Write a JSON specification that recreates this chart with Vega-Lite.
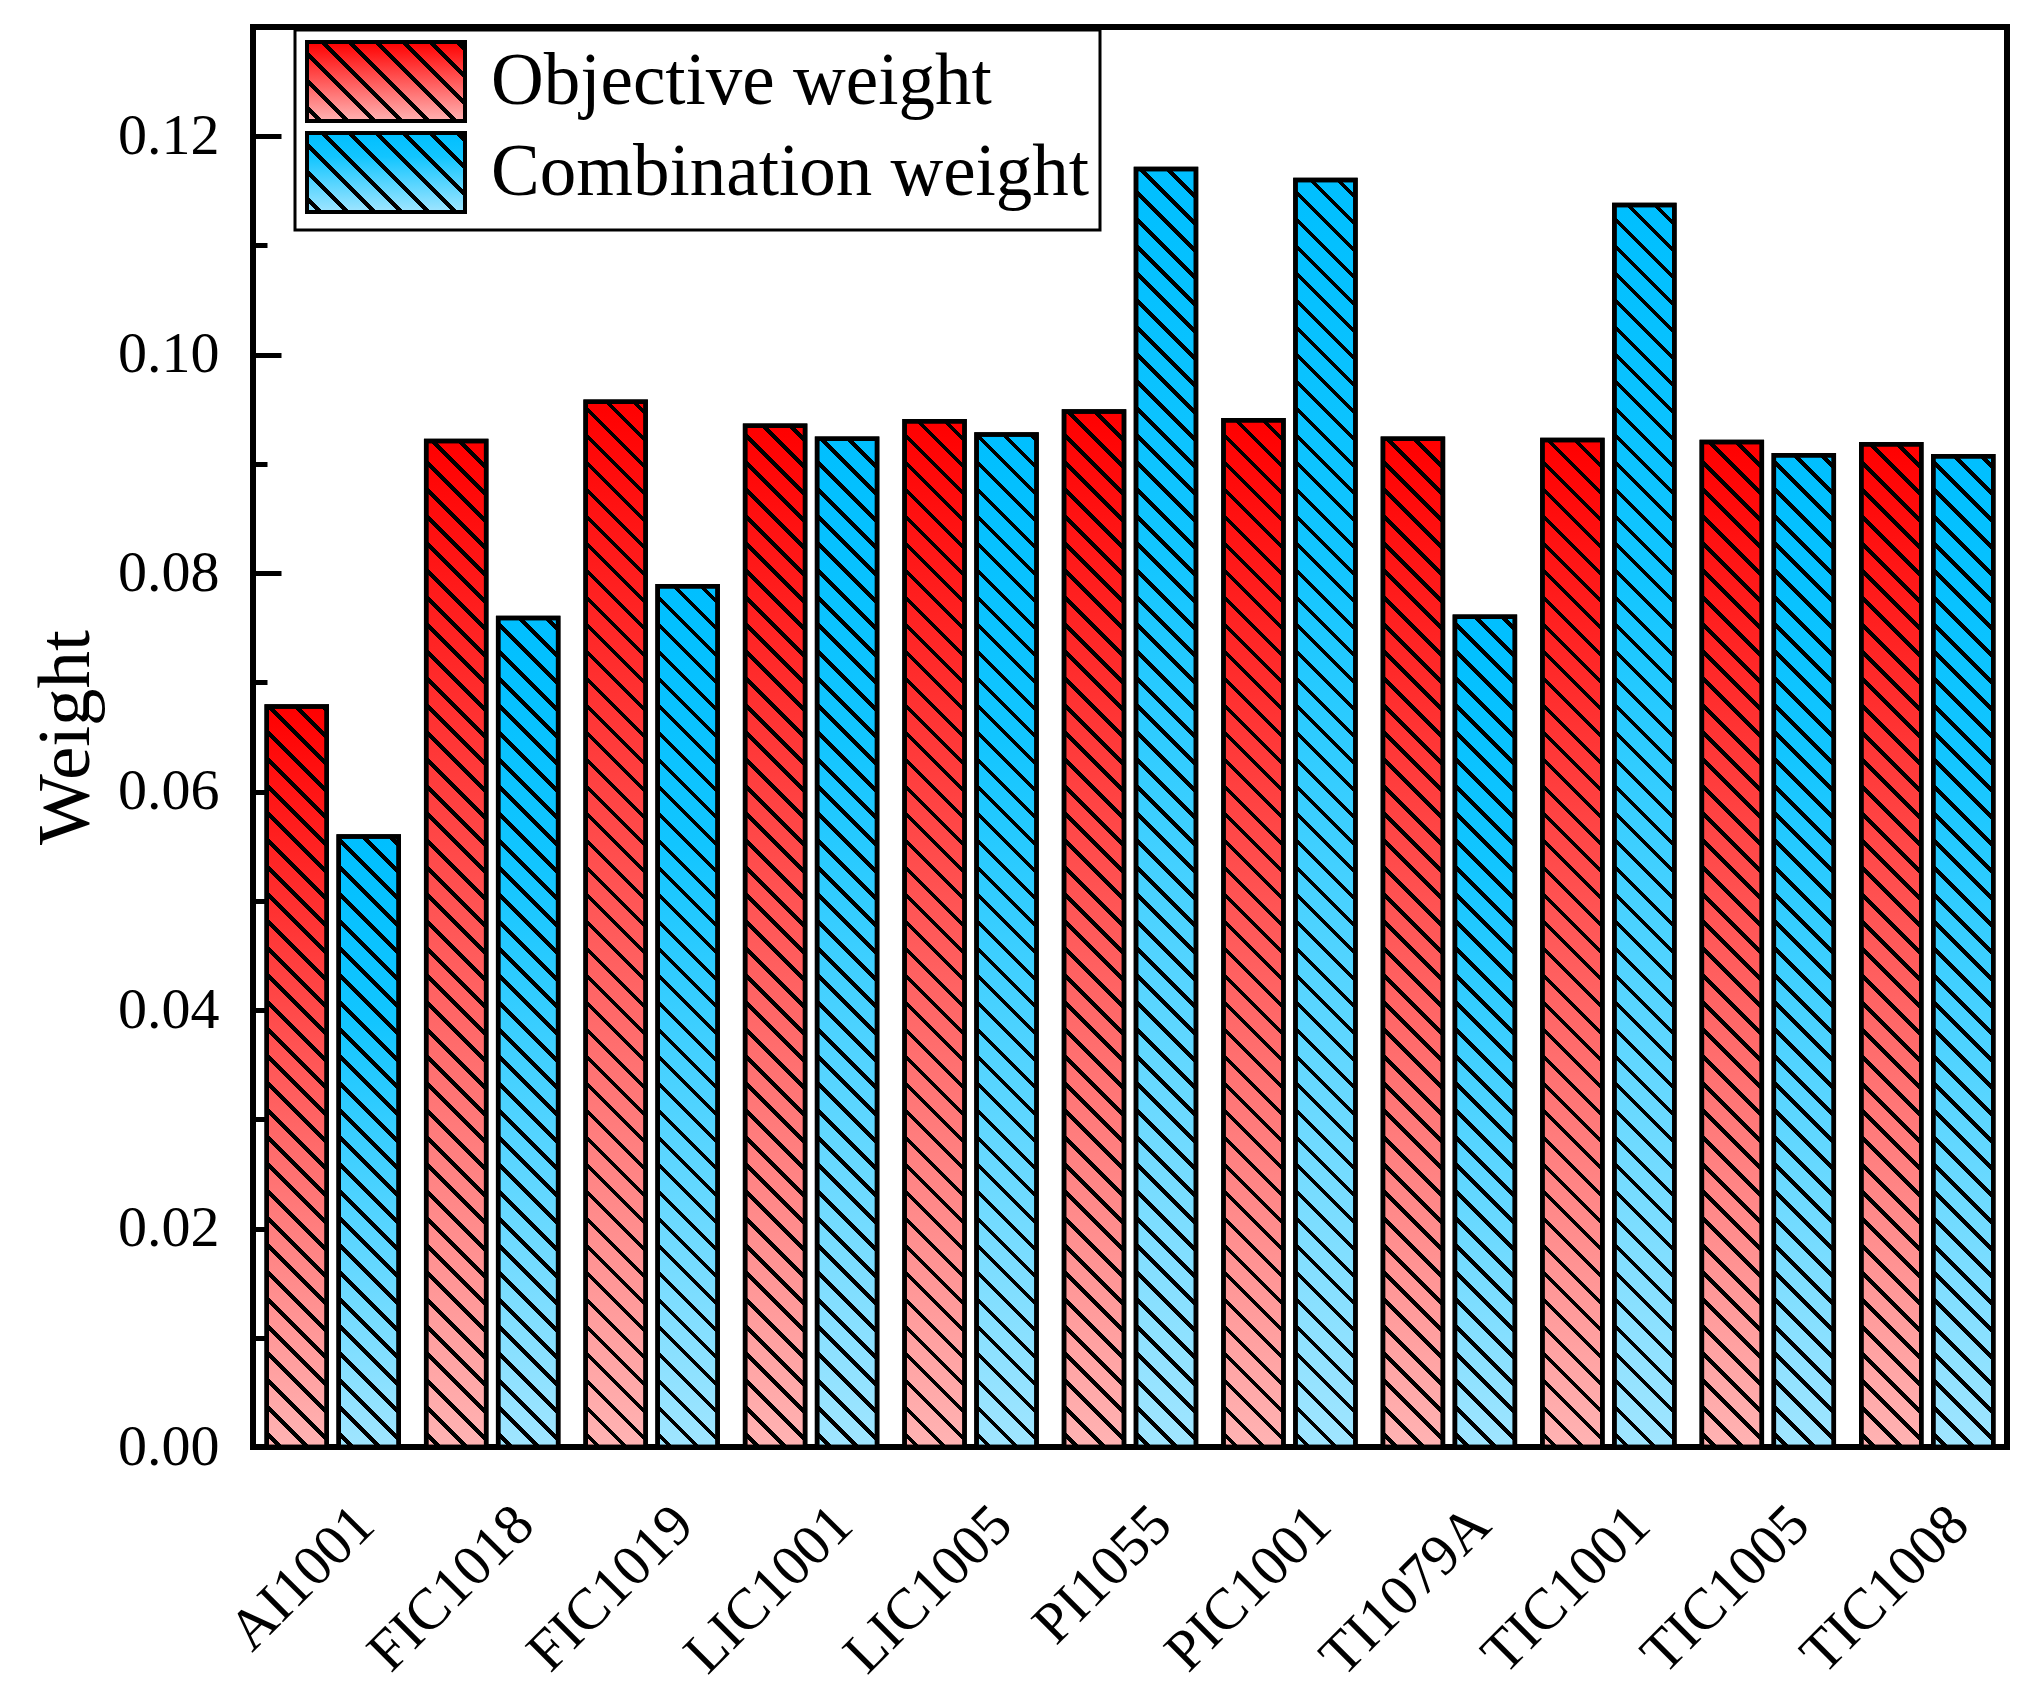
{
  "$schema": "https://vega.github.io/schema/vega-lite/v6.json",
  "autosize": {"type": "none"},
  "width": 1754,
  "height": 1420,
  "padding": {"left": 253, "top": 27, "right": 18, "bottom": 260},
  "background": "white",
  "config": {
    "view": {"stroke": "black", "strokeWidth": 6},
    "font": "Liberation Serif",
    "legend": {"strokeWidth": 3}
  },
  "data": {
    "values": [
      {"tag": "AI1001", "series": "Objective weight", "value": 0.0678},
      {"tag": "AI1001", "series": "Combination weight", "value": 0.0559},
      {"tag": "FIC1018", "series": "Objective weight", "value": 0.0921},
      {"tag": "FIC1018", "series": "Combination weight", "value": 0.0759},
      {"tag": "FIC1019", "series": "Objective weight", "value": 0.0957},
      {"tag": "FIC1019", "series": "Combination weight", "value": 0.0788},
      {"tag": "LIC1001", "series": "Objective weight", "value": 0.0935},
      {"tag": "LIC1001", "series": "Combination weight", "value": 0.0923},
      {"tag": "LIC1005", "series": "Objective weight", "value": 0.0939},
      {"tag": "LIC1005", "series": "Combination weight", "value": 0.0927},
      {"tag": "PI1055", "series": "Objective weight", "value": 0.0948},
      {"tag": "PI1055", "series": "Combination weight", "value": 0.1170},
      {"tag": "PIC1001", "series": "Objective weight", "value": 0.0940},
      {"tag": "PIC1001", "series": "Combination weight", "value": 0.1160},
      {"tag": "TI1079A", "series": "Objective weight", "value": 0.0923},
      {"tag": "TI1079A", "series": "Combination weight", "value": 0.0760},
      {"tag": "TIC1001", "series": "Objective weight", "value": 0.0922},
      {"tag": "TIC1001", "series": "Combination weight", "value": 0.1137},
      {"tag": "TIC1005", "series": "Objective weight", "value": 0.0920},
      {"tag": "TIC1005", "series": "Combination weight", "value": 0.0908},
      {"tag": "TIC1008", "series": "Objective weight", "value": 0.0918},
      {"tag": "TIC1008", "series": "Combination weight", "value": 0.0907}
    ]
  },
  "encoding": {
    "x": {
      "field": "tag",
      "type": "nominal",
      "sort": null,
      "scale": {"paddingInner": 0, "paddingOuter": 0},
      "axis": {
        "title": null,
        "domain": false,
        "ticks": false,
        "labelAngle": -45,
        "labelAlign": "right",
        "labelBaseline": "top",
        "labelFont": "Liberation Serif",
        "labelFontSize": 58,
        "labelColor": "black",
        "labelPadding": 48,
        "labelOffset": 12,
        "labelLimit": 0
      }
    },
    "xOffset": {
      "field": "series",
      "type": "nominal",
      "sort": ["Objective weight", "Combination weight"],
      "scale": {"domain": ["Objective weight", "Combination weight"], "paddingInner": 0.1667, "paddingOuter": 0.191}
    },
    "y": {
      "field": "value",
      "type": "quantitative",
      "scale": {"domain": [0, 0.13], "nice": false, "zero": true},
      "axis": {
        "title": "Weight",
        "titleFont": "Liberation Serif",
        "titleFontSize": 75,
        "titleFontWeight": "normal",
        "titleColor": "black",
        "titleAngle": 270,
        "titleAlign": "center",
        "titleBaseline": "alphabetic",
        "titleX": -165,
        "titleY": 710,
        "domain": false,
        "grid": false,
        "values": [0, 0.01, 0.02, 0.03, 0.04, 0.05, 0.06, 0.07, 0.08, 0.09, 0.1, 0.11, 0.12],
        "tickColor": "black",
        "tickWidth": 5,
        "tickSize": {"condition": {"test": "round(datum.value*100)%2==0", "value": -28}, "value": -14},
        "labelExpr": "round(datum.value*100)%2==0 ? format(datum.value,'.2f') : ''",
        "labelFont": "Liberation Serif",
        "labelFontSize": 58,
        "labelColor": "black",
        "labelPadding": 62,
        "labelFlush": false,
        "labelOverlap": false
      }
    }
  },
  "layer": [
    {
      "mark": {
        "type": "bar",
        "strokeWidth": 4.5,
        "opacity": 1,
        "fillOpacity": 1,
        "fill": {"expr": "(datum.series || datum.value) == 'Objective weight' ? {gradient: 'linear', x1: 0, y1: 0, x2: 0, y2: 1, stops: [{offset: 0, color: '#ff0000'}, {offset: 1, color: '#ffb3b3'}]} : {gradient: 'linear', x1: 0, y1: 0, x2: 0, y2: 1, stops: [{offset: 0, color: '#00bfff'}, {offset: 0.3, color: '#12c5ff'}, {offset: 1, color: '#a0e5ff'}]}"}
      },
      "encoding": {
        "stroke": {
          "field": "series",
          "type": "nominal",
          "sort": ["Objective weight", "Combination weight"],
          "scale": {"domain": ["Objective weight", "Combination weight"], "range": ["black", "black"]},
          "legend": {
            "title": null,
            "orient": "none",
            "legendX": 42,
            "legendY": 3,
            "direction": "vertical",
            "fillColor": "white",
            "strokeColor": "black",
            "padding": 10,
            "rowPadding": -4,
            "symbolType": "M-1,-1H3V1H-1Z",
            "symbolSize": 6241,
            "symbolStrokeColor": "black",
            "symbolStrokeWidth": 4,
            "symbolOpacity": 1,
            "labelOffset": 103,
            "labelFont": "Liberation Serif",
            "labelFontSize": 73,
            "labelColor": "black",
            "labelLimit": 0
          }
        }
      }
    },
    {
      "mark": {
        "type": "bar",
        "stroke": "black",
        "strokeWidth": 4.5,
        "opacity": 1,
        "fill": {"expr": "{gradient: 'linear', x1: 0, y1: 1, x2: isNumber(datum.value) ? 81000/(3600+pow(datum.value*10923.0769,2)) : 6.8354, y2: isNumber(datum.value) ? 1-1350*datum.value*10923.0769/(3600+pow(datum.value*10923.0769,2)) : -2.4177, stops: [{offset:0.0079,color:'#0000'},{offset:0.0079,color:'#000'},{offset:0.0121,color:'#000'},{offset:0.0121,color:'#0000'},{offset:0.0279,color:'#0000'},{offset:0.0279,color:'#000'},{offset:0.0321,color:'#000'},{offset:0.0321,color:'#0000'},{offset:0.0479,color:'#0000'},{offset:0.0479,color:'#000'},{offset:0.0521,color:'#000'},{offset:0.0521,color:'#0000'},{offset:0.0679,color:'#0000'},{offset:0.0679,color:'#000'},{offset:0.0721,color:'#000'},{offset:0.0721,color:'#0000'},{offset:0.0879,color:'#0000'},{offset:0.0879,color:'#000'},{offset:0.0921,color:'#000'},{offset:0.0921,color:'#0000'},{offset:0.1079,color:'#0000'},{offset:0.1079,color:'#000'},{offset:0.1121,color:'#000'},{offset:0.1121,color:'#0000'},{offset:0.1279,color:'#0000'},{offset:0.1279,color:'#000'},{offset:0.1321,color:'#000'},{offset:0.1321,color:'#0000'},{offset:0.1479,color:'#0000'},{offset:0.1479,color:'#000'},{offset:0.1521,color:'#000'},{offset:0.1521,color:'#0000'},{offset:0.1679,color:'#0000'},{offset:0.1679,color:'#000'},{offset:0.1721,color:'#000'},{offset:0.1721,color:'#0000'},{offset:0.1879,color:'#0000'},{offset:0.1879,color:'#000'},{offset:0.1921,color:'#000'},{offset:0.1921,color:'#0000'},{offset:0.2079,color:'#0000'},{offset:0.2079,color:'#000'},{offset:0.2121,color:'#000'},{offset:0.2121,color:'#0000'},{offset:0.2279,color:'#0000'},{offset:0.2279,color:'#000'},{offset:0.2321,color:'#000'},{offset:0.2321,color:'#0000'},{offset:0.2479,color:'#0000'},{offset:0.2479,color:'#000'},{offset:0.2521,color:'#000'},{offset:0.2521,color:'#0000'},{offset:0.2679,color:'#0000'},{offset:0.2679,color:'#000'},{offset:0.2721,color:'#000'},{offset:0.2721,color:'#0000'},{offset:0.2879,color:'#0000'},{offset:0.2879,color:'#000'},{offset:0.2921,color:'#000'},{offset:0.2921,color:'#0000'},{offset:0.3079,color:'#0000'},{offset:0.3079,color:'#000'},{offset:0.3121,color:'#000'},{offset:0.3121,color:'#0000'},{offset:0.3279,color:'#0000'},{offset:0.3279,color:'#000'},{offset:0.3321,color:'#000'},{offset:0.3321,color:'#0000'},{offset:0.3479,color:'#0000'},{offset:0.3479,color:'#000'},{offset:0.3521,color:'#000'},{offset:0.3521,color:'#0000'},{offset:0.3679,color:'#0000'},{offset:0.3679,color:'#000'},{offset:0.3721,color:'#000'},{offset:0.3721,color:'#0000'},{offset:0.3879,color:'#0000'},{offset:0.3879,color:'#000'},{offset:0.3921,color:'#000'},{offset:0.3921,color:'#0000'},{offset:0.4079,color:'#0000'},{offset:0.4079,color:'#000'},{offset:0.4121,color:'#000'},{offset:0.4121,color:'#0000'},{offset:0.4279,color:'#0000'},{offset:0.4279,color:'#000'},{offset:0.4321,color:'#000'},{offset:0.4321,color:'#0000'},{offset:0.4479,color:'#0000'},{offset:0.4479,color:'#000'},{offset:0.4521,color:'#000'},{offset:0.4521,color:'#0000'},{offset:0.4679,color:'#0000'},{offset:0.4679,color:'#000'},{offset:0.4721,color:'#000'},{offset:0.4721,color:'#0000'},{offset:0.4879,color:'#0000'},{offset:0.4879,color:'#000'},{offset:0.4921,color:'#000'},{offset:0.4921,color:'#0000'},{offset:0.5079,color:'#0000'},{offset:0.5079,color:'#000'},{offset:0.5121,color:'#000'},{offset:0.5121,color:'#0000'},{offset:0.5279,color:'#0000'},{offset:0.5279,color:'#000'},{offset:0.5321,color:'#000'},{offset:0.5321,color:'#0000'},{offset:0.5479,color:'#0000'},{offset:0.5479,color:'#000'},{offset:0.5521,color:'#000'},{offset:0.5521,color:'#0000'},{offset:0.5679,color:'#0000'},{offset:0.5679,color:'#000'},{offset:0.5721,color:'#000'},{offset:0.5721,color:'#0000'},{offset:0.5879,color:'#0000'},{offset:0.5879,color:'#000'},{offset:0.5921,color:'#000'},{offset:0.5921,color:'#0000'},{offset:0.6079,color:'#0000'},{offset:0.6079,color:'#000'},{offset:0.6121,color:'#000'},{offset:0.6121,color:'#0000'},{offset:0.6279,color:'#0000'},{offset:0.6279,color:'#000'},{offset:0.6321,color:'#000'},{offset:0.6321,color:'#0000'},{offset:0.6479,color:'#0000'},{offset:0.6479,color:'#000'},{offset:0.6521,color:'#000'},{offset:0.6521,color:'#0000'},{offset:0.6679,color:'#0000'},{offset:0.6679,color:'#000'},{offset:0.6721,color:'#000'},{offset:0.6721,color:'#0000'},{offset:0.6879,color:'#0000'},{offset:0.6879,color:'#000'},{offset:0.6921,color:'#000'},{offset:0.6921,color:'#0000'},{offset:0.7079,color:'#0000'},{offset:0.7079,color:'#000'},{offset:0.7121,color:'#000'},{offset:0.7121,color:'#0000'},{offset:0.7279,color:'#0000'},{offset:0.7279,color:'#000'},{offset:0.7321,color:'#000'},{offset:0.7321,color:'#0000'},{offset:0.7479,color:'#0000'},{offset:0.7479,color:'#000'},{offset:0.7521,color:'#000'},{offset:0.7521,color:'#0000'},{offset:0.7679,color:'#0000'},{offset:0.7679,color:'#000'},{offset:0.7721,color:'#000'},{offset:0.7721,color:'#0000'},{offset:0.7879,color:'#0000'},{offset:0.7879,color:'#000'},{offset:0.7921,color:'#000'},{offset:0.7921,color:'#0000'},{offset:0.8079,color:'#0000'},{offset:0.8079,color:'#000'},{offset:0.8121,color:'#000'},{offset:0.8121,color:'#0000'},{offset:0.8279,color:'#0000'},{offset:0.8279,color:'#000'},{offset:0.8321,color:'#000'},{offset:0.8321,color:'#0000'},{offset:0.8479,color:'#0000'},{offset:0.8479,color:'#000'},{offset:0.8521,color:'#000'},{offset:0.8521,color:'#0000'},{offset:0.8679,color:'#0000'},{offset:0.8679,color:'#000'},{offset:0.8721,color:'#000'},{offset:0.8721,color:'#0000'},{offset:0.8879,color:'#0000'},{offset:0.8879,color:'#000'},{offset:0.8921,color:'#000'},{offset:0.8921,color:'#0000'},{offset:0.9079,color:'#0000'},{offset:0.9079,color:'#000'},{offset:0.9121,color:'#000'},{offset:0.9121,color:'#0000'},{offset:0.9279,color:'#0000'},{offset:0.9279,color:'#000'},{offset:0.9321,color:'#000'},{offset:0.9321,color:'#0000'},{offset:0.9479,color:'#0000'},{offset:0.9479,color:'#000'},{offset:0.9521,color:'#000'},{offset:0.9521,color:'#0000'},{offset:0.9679,color:'#0000'},{offset:0.9679,color:'#000'},{offset:0.9721,color:'#000'},{offset:0.9721,color:'#0000'},{offset:0.9879,color:'#0000'},{offset:0.9879,color:'#000'},{offset:0.9921,color:'#000'},{offset:0.9921,color:'#0000'}]}"}
      },
      "encoding": {
        "strokeDash": {
          "field": "series",
          "type": "nominal",
          "sort": ["Combination weight", "Objective weight"],
          "scale": {"domain": ["Combination weight", "Objective weight"], "range": [[1, 0], [1, 0]]},
          "legend": {
            "title": null,
            "orient": "none",
            "legendX": 42,
            "legendY": 3,
            "direction": "vertical",
            "fillColor": "transparent",
            "strokeColor": "transparent",
            "padding": 10,
            "rowPadding": -4,
            "symbolType": "M-1,-1H3V1H-1Z",
            "symbolSize": 6241,
            "symbolStrokeColor": "black",
            "symbolStrokeWidth": 4,
            "symbolOpacity": 1,
            "labelExpr": "''",
            "labelOffset": 103,
            "labelFont": "Liberation Serif",
            "labelFontSize": 73,
            "labelColor": "black",
            "labelLimit": 0
          }
        }
      }
    }
  ]
}
